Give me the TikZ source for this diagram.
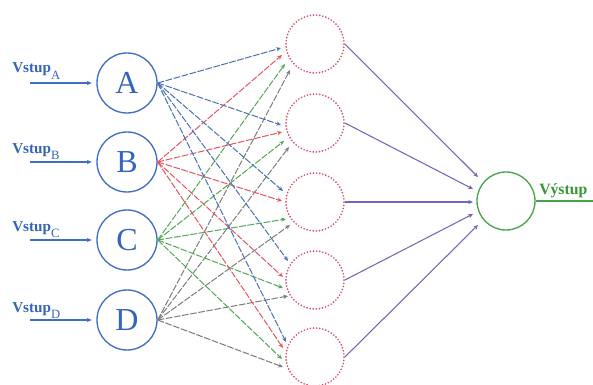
\documentclass[tikz,border=0pt]{standalone}
\usepackage{fontspec}
\setmainfont{Liberation Serif}
\usetikzlibrary{arrows.meta,calc}

\definecolor{inblue}{RGB}{64,110,196}
\definecolor{txtblue}{RGB}{52,100,190}
\definecolor{lnblue}{RGB}{74,112,186}
\definecolor{lnred}{RGB}{226,86,98}
\definecolor{lngreen}{RGB}{82,168,86}
\definecolor{lngray}{RGB}{125,125,125}
\definecolor{hidred}{RGB}{224,74,100}
\definecolor{lnpurple}{RGB}{112,104,192}
\definecolor{outgreen}{RGB}{72,164,72}
\definecolor{txtgreen}{RGB}{56,150,56}

\tikzset{
  tip/.style={-{Stealth[length=3.6pt,width=3.2pt]}},
  innode/.style={circle,draw=inblue,line width=1pt,minimum size=45pt,inner sep=0pt,
    text=txtblue,font=\fontsize{24}{24}\selectfont},
  hidnode/.style={circle,draw=hidred,line width=1.4pt,minimum size=43.5pt,inner sep=0pt,
    line cap=round,dash pattern=on 0pt off 2.35pt},
  outnode/.style={circle,draw=outgreen,line width=1pt,minimum size=43.5pt,inner sep=0pt},
  inlabel/.style={anchor=base west,inner sep=0pt,text=txtblue,font=\fontsize{11.4}{12}\selectfont},
  feed/.style={tip,draw=inblue,line width=0.8pt},
  link/.style={tip,line width=0.75pt,dash pattern=on 5pt off 1.2pt},
  outlink/.style={tip,draw=lnpurple,line width=0.8pt},
}

\newcommand{\vstuplabel}[1]{\textbf{Vstup}\raisebox{-5pt}{\fontsize{9.5}{9.5}\selectfont #1}}

\begin{document}
\begin{tikzpicture}[x=0.75pt,y=-0.75pt]
\useasboundingbox (0,0) rectangle (593,385);

% input neurons
\node[innode] (A) at (127,83)  {A};
\node[innode] (B) at (127,162) {B};
\node[innode] (C) at (127,240) {C};
\node[innode] (D) at (127,320) {D};

% hidden neurons
\node[hidnode] (H1) at (315,44)  {};
\node[hidnode] (H2) at (315,123) {};
\node[hidnode] (H3) at (315,202) {};
\node[hidnode] (H4) at (315,280) {};
\node[hidnode] (H5) at (315,357) {};

% output neuron
\node[outnode] (O) at (506,201) {};

% input labels and feeding arrows
\node[inlabel] (lA) at (12,73)  {\vstuplabel{A}};
\node[inlabel] (lB) at (12,153) {\vstuplabel{B}};
\node[inlabel] (lC) at (12,231) {\vstuplabel{C}};
\node[inlabel] (lD) at (12,312) {\vstuplabel{D}};
\foreach \n/\y in {A/83,B/162,C/240,D/320}{
  \coordinate (s\n) at (30,\y);
  \draw[feed,shorten >=3.5pt] (s\n) -- (\n.west);
}

% input -> hidden connections, ending just left of each hidden neuron
\foreach \h/\ax/\ay/\bx/\by/\cx/\cy/\dx/\dy in {
  H1/-34/4/-33/11/-30/20/-25/26,
  H2/-34/2/-33/9/-31/18/-26/24,
  H3/-32/-11/-33/-1/-29/17/-25/23,
  H4/-27/-19/-32/-3/-32/8/-27/16,
  H5/-29/-15/-32/-9/-33/2/-32/10}{
  \coordinate (\h a) at ($(\h)+(\ax,\ay)$);
  \coordinate (\h b) at ($(\h)+(\bx,\by)$);
  \coordinate (\h c) at ($(\h)+(\cx,\cy)$);
  \coordinate (\h d) at ($(\h)+(\dx,\dy)$);
}
\foreach \h in {H1,H2,H3,H4,H5}{
  \draw[link,draw=lngray]  (D.east) -- (\h d);
  \draw[link,draw=lngreen] (C.east) -- (\h c);
  \draw[link,draw=lnred]   (B.east) -- (\h b);
  \draw[link,draw=lnblue]  (A.east) -- (\h a);
}

% hidden -> output connections
\foreach \h/\ox/\oy in {H1/-28/-24,H2/-33/-12,H3/-33/1,H4/-33/13,H5/-28/24}{
  \coordinate (o\h) at ($(O)+(\ox,\oy)$);
  \draw[outlink] (\h.east) -- (o\h);
}

% output line and label
\coordinate (oend) at (593,201);
\draw[draw=outgreen,line width=1pt] (O.east) -- (oend);
\node[anchor=base west,inner sep=0pt,text=txtgreen,font=\fontsize{11.8}{12}\selectfont\bfseries]
  (lout) at (539,195) {Výstup};
\end{tikzpicture}
\end{document}
